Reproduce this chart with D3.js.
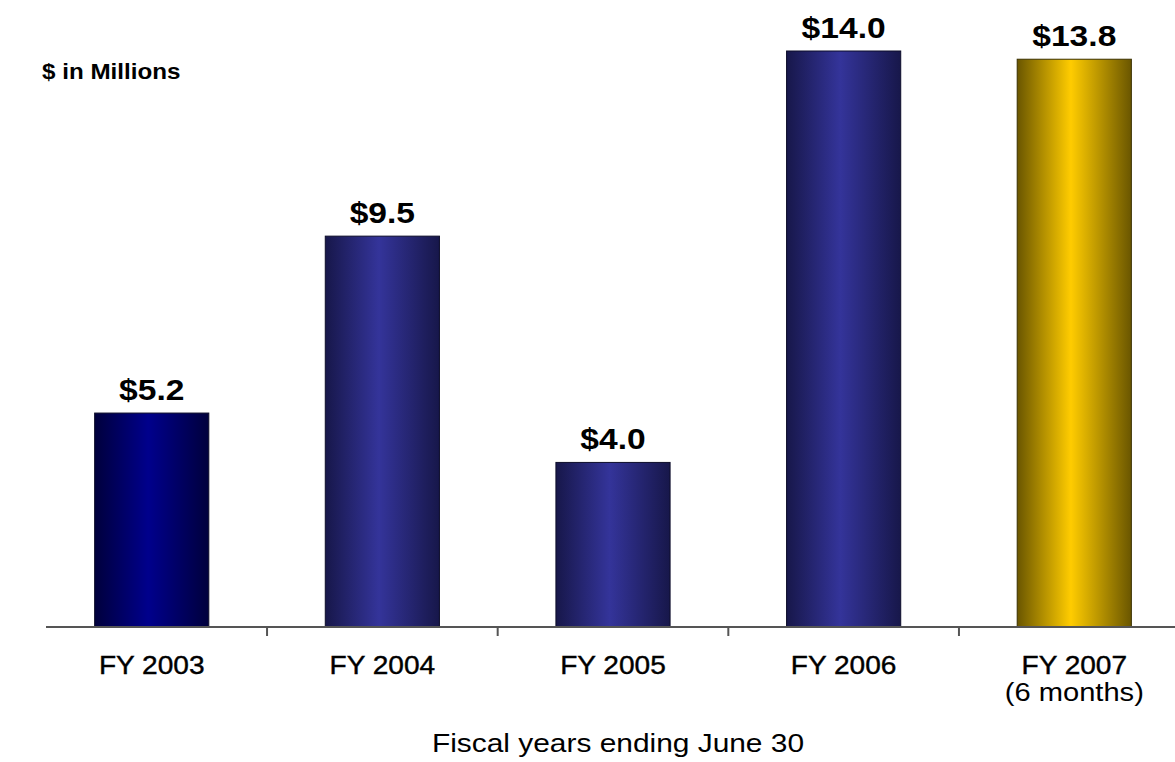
<!DOCTYPE html>
<html>
<head>
<meta charset="utf-8">
<script src="https://cdn.jsdelivr.net/npm/d3@7/dist/d3.min.js"></script>
<style>
  html, body { margin: 0; padding: 0; background: #fff; }
  svg { display: block; font-family: Arial, "Liberation Sans", sans-serif; }
</style>
</head>
<body>
<svg id="chart" width="1175" height="762"></svg>
<script>
const categories = ["FY 2003", "FY 2004", "FY 2005", "FY 2006", "FY 2007"];
const subLabels = ["", "", "", "", "(6 months)"];
const values = [5.2, 9.5, 4.0, 14.0, 13.8];
const valueLabels = ["$5.2", "$9.5", "$4.0", "$14.0", "$13.8"];
const gradients = [
  ["#00003c", "#00008c", "#00003c"],
  ["#17174a", "#34349a", "#17174a"],
  ["#17174a", "#34349a", "#17174a"],
  ["#17174a", "#34349a", "#17174a"],
  ["#6a5600", "#ffcc00", "#6a5600"]
];
const unitLabel = "$ in Millions";
const axisTitle = "Fiscal years ending June 30";

const svg = d3.select("#chart");
const W = 1175;
const baseY = 627;

const x = d3.scaleBand().domain(categories).range([36.4, 1189.6]).paddingInner(0.505).paddingOuter(0.2525);
const y = d3.scaleLinear().domain([0, 14]).range([baseY, 51]);

const defs = svg.append("defs");
gradients.forEach((g, i) => {
  const lg = defs.append("linearGradient").attr("id", "g" + i).attr("x1", "0%").attr("x2", "100%").attr("y1", "0%").attr("y2", "0%");
  lg.append("stop").attr("offset", "0%").attr("stop-color", g[0]);
  lg.append("stop").attr("offset", "47%").attr("stop-color", g[1]);
  lg.append("stop").attr("offset", "100%").attr("stop-color", g[2]);
});

// bars
svg.selectAll("rect.bar").data(values).enter().append("rect")
  .attr("class", "bar")
  .attr("x", (d, i) => x(categories[i]))
  .attr("y", d => y(d))
  .attr("width", x.bandwidth())
  .attr("height", d => baseY - y(d))
  .attr("fill", (d, i) => `url(#g${i})`)
  .attr("stroke", (d, i) => i === 4 ? "#3a3000" : "#0d0d2a")
  .attr("stroke-width", 1);

// value labels
svg.selectAll("text.val").data(values).enter().append("text")
  .attr("class", "val")
  .attr("transform", (d, i) => `translate(${x(categories[i]) + x.bandwidth() / 2},${y(d) - 13}) scale(1.12,1)`)
  .attr("text-anchor", "middle")
  .attr("font-size", 30)
  .attr("font-weight", "bold")
  .attr("fill", "#000")
  .text((d, i) => valueLabels[i]);

// axis
const axisG = svg.append("g").attr("transform", `translate(0,${baseY})`);
const axis = d3.axisBottom(x).tickSize(0).tickFormat("");
axisG.call(axis);
axisG.select(".domain").remove();
axisG.append("line").attr("x1", 46).attr("x2", W).attr("y1", 0).attr("y2", 0)
  .attr("stroke", "#555").attr("stroke-width", 2);
const boundaries = categories.slice(0, -1).map(c => x(c) + x.bandwidth() + x.step() * x.paddingInner() / 2);
axisG.selectAll("line.tk").data(boundaries).enter().append("line")
  .attr("class", "tk")
  .attr("x1", d => d).attr("x2", d => d).attr("y1", 0).attr("y2", 9)
  .attr("stroke", "#555").attr("stroke-width", 2);

// category labels
svg.selectAll("text.cat").data(categories).enter().append("text")
  .attr("class", "cat")
  .attr("transform", d => `translate(${x(d) + x.bandwidth() / 2},674) scale(1.08,1)`)
  .attr("text-anchor", "middle")
  .attr("font-size", 26)
  .attr("stroke", "#000")
  .attr("stroke-width", 0.4)
  .attr("fill", "#000")
  .text(d => d);
svg.selectAll("text.sub").data(subLabels.filter(s => s)).enter().append("text")
  .attr("class", "sub")
  .attr("transform", `translate(${x(categories[4]) + x.bandwidth() / 2},701) scale(1.12,1)`)
  .attr("text-anchor", "middle")
  .attr("font-size", 26)
  .attr("fill", "#000")
  .text(d => d);

// unit label
svg.append("text")
  .attr("transform", "translate(42,79) scale(1.1,1)")
  .attr("font-size", 22)
  .attr("font-weight", "bold")
  .attr("fill", "#000")
  .text(unitLabel);

// axis title
svg.append("text")
  .attr("transform", "translate(618,752) scale(1.15,1)")
  .attr("text-anchor", "middle")
  .attr("font-size", 26)
  .attr("fill", "#000")
  .text(axisTitle);
</script>
</body>
</html>
